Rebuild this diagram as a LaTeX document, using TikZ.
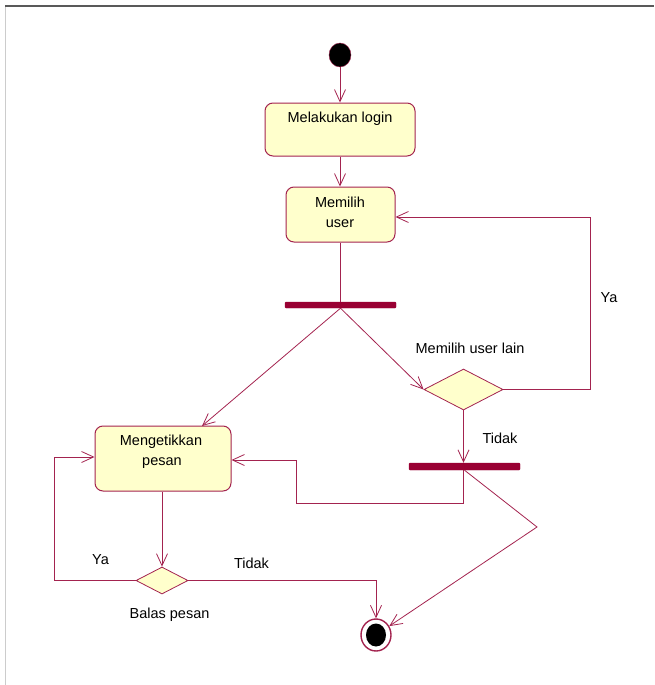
\documentclass[tikz,border=0pt]{standalone}
\usepackage{fontspec}
\setmainfont{Liberation Sans}
\usetikzlibrary{arrows.meta,shapes.geometric}
\definecolor{lc}{HTML}{A3234F}
\definecolor{barc}{HTML}{990033}
\definecolor{fillc}{HTML}{FFFFCC}
\begin{document}
\begin{tikzpicture}[x=1pt,y=-1pt,
  every node/.style={font=\fontsize{14.5}{20}\selectfont},
  actbox/.style={draw=lc, fill=fillc, rounded corners=8pt, line width=1pt, inner sep=0},
  txt/.style={inner sep=0, text=black, anchor=base},
  bar/.style={rectangle, fill=barc, draw=barc, rounded corners=1pt, inner sep=0},
  dec/.style={diamond, draw=lc, fill=fillc, line width=0.8pt, inner sep=0},
  flow/.style={draw=lc, line width=0.8pt},
  arr/.style={flow, -{Straight Barb[length=12pt,width=11pt]}}
]
\useasboundingbox (0,0) rectangle (654,685);
% frame
\draw[color=gray!70!black, line width=2pt] (5,6.5) -- (654,6.5);
\draw[color=gray!40, line width=1.5pt] (5.5,7) -- (5.5,685);

% nodes
\node[ellipse, fill=black, draw=lc, minimum width=22pt, minimum height=24pt, inner sep=0] (start) at (340,55) {};
\node[actbox, minimum width=150pt, minimum height=53pt] (login) at (340,129.5) {};
\node[txt] (t1) at (340,122) {Melakukan login};
\node[actbox, minimum width=109pt, minimum height=55pt] (user) at (340.5,214.5) {};
\node[txt] (t2a) at (340,207) {Memilih};
\node[txt] (t2b) at (340,227) {user};
\node[bar, minimum width=111pt, minimum height=6pt] (bar1) at (340.5,305) {};
\node[dec, minimum width=79pt, minimum height=41pt] (d1) at (463.5,389.5) {};
\node[txt] (l1) at (470,353) {Memilih user lain};
\node[txt] (l2) at (609,302) {Ya};
\node[txt] (l3) at (500,443) {Tidak};
\node[bar, minimum width=111pt, minimum height=7pt] (bar2) at (464.5,466.5) {};
\node[actbox, minimum width=136pt, minimum height=65pt] (box3) at (163,458.5) {};
\node[txt] (t3a) at (161,445) {Mengetikkan};
\node[txt] (t3b) at (162,465) {pesan};
\node[dec, minimum width=52pt, minimum height=27pt] (d2) at (162,580.5) {};
\node[txt] (l4) at (100.5,564) {Ya};
\node[txt] (l5) at (251.5,568) {Tidak};
\node[txt] (l6) at (169.5,618) {Balas pesan};
\node[ellipse, draw=lc, fill=white, line width=1.4pt, minimum width=30pt, minimum height=32pt, inner sep=0] (final) at (376,635) {};
\node[ellipse, fill=black, minimum width=20pt, minimum height=23pt, inner sep=0] (finalin) at (376,635) {};

% helper coordinates
\coordinate (b3in) at (202,426);
\coordinate (yaR) at (590,217);
\coordinate (cA) at (296,503);
\coordinate (cB) at (296,460);
\coordinate (cC) at (537,527);
\coordinate (cD) at (54,457);

% connectors
\draw[arr] (start) -- (login);
\draw[arr] (login.south) -- (login.south |- user.north);
\draw[flow] (user.south) -- (user.south |- bar1.north);
\draw[arr] (bar1.south) -- (b3in);
\draw[arr] (bar1.south) -- (d1.west);
\draw[arr] (d1.east) -| (yaR) -- (user.east |- yaR);
\draw[arr] (d1.south) -- (d1.south |- bar2.north);
\draw[arr] (bar2.south -| d1.south) |- (cA) -- (cB) -- (box3.east |- cB);
\draw[arr] (bar2.south) -- (cC) -- (final);
\draw[arr] (box3.south -| d2.north) -- (d2.north);
\draw[arr] (d2.west) -| (cD) -- (box3.west |- cD);
\draw[arr] (d2.east) -| (final.north);
\end{tikzpicture}
\end{document}
